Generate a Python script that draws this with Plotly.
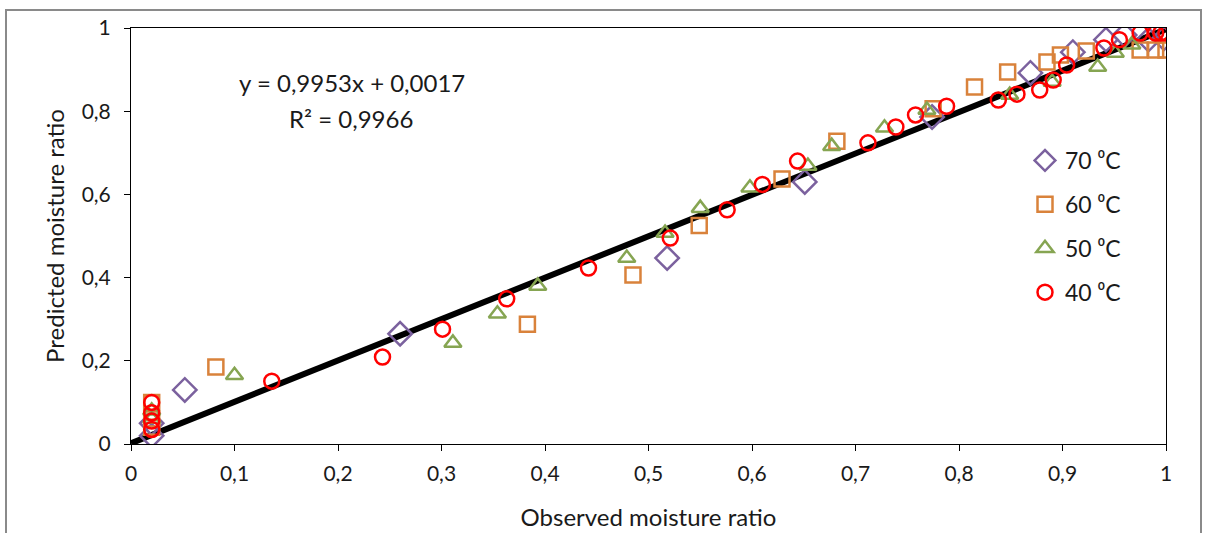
import plotly.graph_objects as go

# ---- data ----
x70 = [0.02, 0.02, 0.052, 0.26, 0.518, 0.651, 0.774, 0.869, 0.91, 0.942, 0.96, 0.983, 0.998]
y70 = [0.02, 0.05, 0.13, 0.265, 0.447, 0.63, 0.786, 0.892, 0.942, 0.972, 0.983, 0.972, 0.975]

x60 = [0.02, 0.02, 0.02, 0.082, 0.383, 0.485, 0.549, 0.629, 0.682, 0.775, 0.815, 0.847, 0.885, 0.898, 0.923, 0.975, 0.99, 1.0]
y60 = [0.10, 0.06, 0.04, 0.185, 0.288, 0.406, 0.525, 0.637, 0.728, 0.806, 0.858, 0.894, 0.918, 0.935, 0.945, 0.947, 0.947, 0.947]

x50 = [0.02, 0.02, 0.1, 0.311, 0.354, 0.393, 0.479, 0.516, 0.55, 0.598, 0.654, 0.677, 0.728, 0.769, 0.849, 0.89, 0.934, 0.951, 0.967]
y50 = [0.08, 0.06, 0.165, 0.243, 0.313, 0.38, 0.447, 0.507, 0.567, 0.616, 0.668, 0.716, 0.76, 0.803, 0.839, 0.87, 0.906, 0.94, 0.96]

x40 = [0.02, 0.02, 0.02, 0.02, 0.136, 0.243, 0.301, 0.363, 0.442, 0.521, 0.576, 0.61, 0.644, 0.712, 0.739, 0.758, 0.788, 0.838, 0.856, 0.878, 0.891, 0.904, 0.94, 0.955, 0.975, 0.99, 0.995, 1.0]
y40 = [0.10, 0.075, 0.055, 0.035, 0.151, 0.209, 0.276, 0.349, 0.423, 0.495, 0.563, 0.624, 0.68, 0.724, 0.762, 0.791, 0.812, 0.827, 0.841, 0.851, 0.875, 0.911, 0.952, 0.972, 0.988, 0.988, 0.988, 0.988]

slope = 0.9953
intercept = 0.0017
trend_x = [0.0, 1.0]

series_names = ["70 ⁰C", "60 ⁰C", "50 ⁰C", "40 ⁰C"]
series_x = [x70, x60, x50, x40]
series_y = [y70, y60, y50, y40]
symbols = ["diamond-open", "square-open", "triangle-up-open", "circle-open"]
colors = ["#7B619E", "#D9823B", "#86A552", "#FF0000"]
sizes = [18, 15, 15, 15]

FONT = "Lato, 'Open Sans', sans-serif"
TXT = "#1a1a1a"

fig = go.Figure()

fig.add_trace(go.Scatter(
    x=trend_x, y=[slope * v + intercept for v in trend_x],
    mode="lines", line=dict(color="black", width=6), showlegend=False,
    hoverinfo="skip"))

for i, (nm, xs, ys, sym, col, sz) in enumerate(zip(series_names, series_x, series_y, symbols, colors, sizes)):
    fig.add_trace(go.Scatter(
        x=xs, y=ys, mode="markers", name=nm, legendgroup=str(i),
        marker=dict(symbol=sym, size=sz, color=col, line=dict(width=2.5, color=col))))

fig.update_layout(
    width=1206, height=533,
    paper_bgcolor="white", plot_bgcolor="white",
    margin=dict(l=131, r=40, t=28, b=89, autoexpand=False),
    separators=", ",
    font=dict(family=FONT, size=21, color=TXT),
    showlegend=True,
    legend=dict(x=(1025 - 131) / 1035, y=(444 - 139) / 416, xanchor="left", yanchor="top",
                font=dict(size=23, color=TXT), tracegroupgap=11,
                bgcolor="rgba(0,0,0,0)", itemwidth=30),
)

fig.update_xaxes(range=[0, 1], dtick=0.1, tick0=0, showgrid=False, zeroline=False,
                 showline=True, linecolor="black", linewidth=1, mirror=True,
                 ticks="outside", ticklen=6, tickcolor="black",
                 tickfont=dict(size=21), ticklabelstandoff=5,
                 title=dict(text="Observed moisture ratio", font=dict(size=24), standoff=24))
fig.update_yaxes(range=[0, 1], dtick=0.2, tick0=0, showgrid=False, zeroline=False,
                 showline=True, linecolor="black", linewidth=1, mirror=True,
                 ticks="outside", ticklen=6, tickcolor="black",
                 tickfont=dict(size=21), ticklabelstandoff=9,
                 title=dict(text="Predicted moisture ratio", font=dict(size=24), standoff=10))

fig.add_annotation(x=(352 - 131) / 1035, y=(444 - 83) / 416, xref="paper", yref="paper",
                   xanchor="center", yanchor="middle",
                   text="y = 0,9953x + 0,0017", showarrow=False, font=dict(size=24, color=TXT))
fig.add_annotation(x=(351 - 131) / 1035, y=(444 - 118) / 416, xref="paper", yref="paper",
                   xanchor="center", yanchor="middle",
                   text="R² = 0,9966", showarrow=False, font=dict(size=24, color=TXT))

fig.add_shape(type="rect", xref="paper", yref="paper",
              x0=(6 - 131) / 1035, x1=(1201 - 131) / 1035,
              y0=(444 - 560) / 416, y1=(444 - 10) / 416,
              line=dict(color="#8a8a8a", width=2), layer="below")

fig.write_html("out.html", config={"displayModeBar": False},
               post_script="document.body.style.margin='0';document.body.style.padding='0';document.body.style.overflow='hidden';")
